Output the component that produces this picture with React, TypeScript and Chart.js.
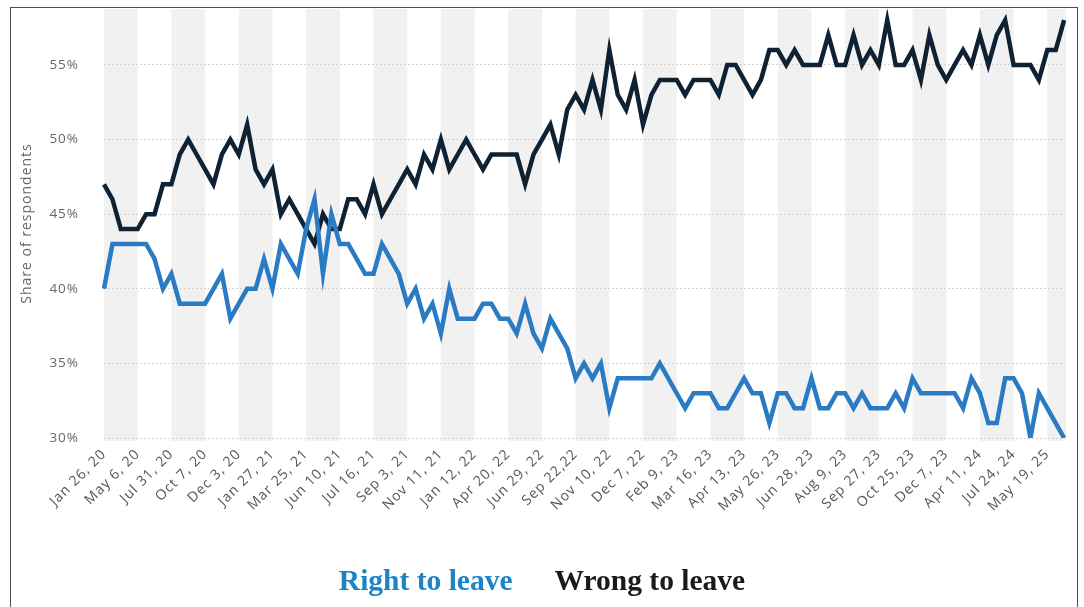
import React, { useEffect, useRef } from "react";
import { Chart, registerables } from "chart.js";

Chart.register(...registerables);

// Tick labels shown on the x axis (one every 4 survey points)
const tickLabels = [
  "Jan 26, 20", "May 6, 20", "Jul 31, 20", "Oct 7, 20", "Dec 3, 20",
  "Jan 27, 21", "Mar 25, 21", "Jun 10, 21", "Jul 16, 21", "Sep 3, 21",
  "Nov 11, 21", "Jan 12, 22", "Apr 20, 22", "Jun 29, 22", "Sep 22,22",
  "Nov 10, 22", "Dec 7, 22", "Feb 9, 23", "Mar 16, 23", "Apr 13, 23",
  "May 26, 23", "Jun 28, 23", "Aug 9, 23", "Sep 27, 23", "Oct 25, 23",
  "Dec 7, 23", "Apr 11, 24", "Jul 24, 24", "May 19, 25",
];
const pointsPerTick = 4;

// Share of respondents (%) saying Britain was right to leave the EU
const rightToLeave = [
  40, 43, 43, 43, 43, 43, 42, 40, 41, 39,
  39, 39, 39, 40, 41, 38, 39, 40, 40, 42,
  40, 43, 42, 41, 44, 46, 41, 45, 43, 43,
  42, 41, 41, 43, 42, 41, 39, 40, 38, 39,
  37, 40, 38, 38, 38, 39, 39, 38, 38, 37,
  39, 37, 36, 38, 37, 36, 34, 35, 34, 35,
  32, 34, 34, 34, 34, 34, 35, 34, 33, 32,
  33, 33, 33, 32, 32, 33, 34, 33, 33, 31,
  33, 33, 32, 32, 34, 32, 32, 33, 33, 32,
  33, 32, 32, 32, 33, 32, 34, 33, 33, 33,
  33, 33, 32, 34, 33, 31, 31, 34, 34, 33,
  30, 33, 32, 31, 30,
];

// Share of respondents (%) saying Britain was wrong to leave the EU
const wrongToLeave = [
  47, 46, 44, 44, 44, 45, 45, 47, 47, 49,
  50, 49, 48, 47, 49, 50, 49, 51, 48, 47,
  48, 45, 46, 45, 44, 43, 45, 44, 44, 46,
  46, 45, 47, 45, 46, 47, 48, 47, 49, 48,
  50, 48, 49, 50, 49, 48, 49, 49, 49, 49,
  47, 49, 50, 51, 49, 52, 53, 52, 54, 52,
  56, 53, 52, 54, 51, 53, 54, 54, 54, 53,
  54, 54, 54, 53, 55, 55, 54, 53, 54, 56,
  56, 55, 56, 55, 55, 55, 57, 55, 55, 57,
  55, 56, 55, 58, 55, 55, 56, 54, 57, 55,
  54, 55, 56, 55, 57, 55, 57, 58, 55, 55,
  55, 54, 56, 56, 58,
];

const yTicks = [30, 35, 40, 45, 50, 55];
const yMin = 30;
const yMax = 58.75;

const categories = rightToLeave.map((_, i) =>
  i % pointsPerTick === 0 ? tickLabels[i / pointsPerTick] ?? "" : ""
);

const seriesNames = ["Right to leave", "Wrong to leave"];
const seriesColors = ["#2b7bc4", "#0f2233"];
const legendColors = ["#1b84c6", "#1a1a1a"];

const bandPlugin = {
  id: "bands",
  beforeDraw(chart: any) {
    const { ctx, chartArea, scales } = chart;
    const x = scales.x;
    ctx.save();
    ctx.fillStyle = "#f1f1f1";
    for (let k = 0; k < tickLabels.length; k += 2) {
      const x0 = x.getPixelForValue(k * pointsPerTick);
      if (x0 >= chartArea.right) break;
      const x1 = Math.min(
        x.getPixelForValue((k + 1) * pointsPerTick),
        chartArea.right + 2
      );
      ctx.fillRect(x0, chartArea.top, x1 - x0, chartArea.bottom - chartArea.top + 3);
    }
    ctx.restore();
    try {
      (ctx as any).letterSpacing = "1px";
    } catch (e) {
      /* ignore */
    }
  },
  beforeDatasetsDraw(chart: any) {
    try {
      (chart.ctx as any).letterSpacing = "0px";
    } catch (e) {
      /* ignore */
    }
  },
};

export default function App() {
  const canvasRef = useRef<HTMLCanvasElement | null>(null);

  useEffect(() => {
    if (!canvasRef.current) return;
    const family = "'Open Sans', sans-serif";
    const chart = new Chart(canvasRef.current, {
      type: "line",
      data: {
        labels: categories,
        datasets: [
          {
            label: seriesNames[0],
            data: rightToLeave,
            borderColor: seriesColors[0],
            backgroundColor: seriesColors[0],
            borderWidth: 4.5,
            pointRadius: 0,
            tension: 0,
          },
          {
            label: seriesNames[1],
            data: wrongToLeave,
            borderColor: seriesColors[1],
            backgroundColor: seriesColors[1],
            borderWidth: 4.5,
            pointRadius: 0,
            tension: 0,
          },
        ],
      },
      options: {
        animation: false,
        responsive: false,
        layout: { padding: { top: 9, right: 16, left: 0, bottom: 0 } },
        plugins: {
          legend: { display: false },
          tooltip: { enabled: false },
        },
        scales: {
          x: {
            grid: { display: false, drawTicks: false },
            border: { display: false },
            afterFit: (s: any) => {
              s.height = 169;
            },
            ticks: {
              autoSkip: false,
              maxRotation: 45,
              minRotation: 45,
              color: "#555555",
              font: { family, size: 14 },
              padding: 8,
            },
          },
          y: {
            min: yMin,
            max: yMax,
            afterBuildTicks: (s: any) => {
              s.ticks = yTicks.map((v) => ({ value: v }));
            },
            afterFit: (s: any) => {
              s.width = 104;
              s.paddingTop = 0;
              s.paddingBottom = 0;
            },
            grid: { color: "#d2d2d2", lineWidth: 1, drawTicks: false },
            border: { display: false, dash: [2, 2] },
            ticks: {
              callback: (v: any) => v + "%",
              color: "#666666",
              font: { family, size: 13.5 },
              padding: 25,
            },
            title: {
              display: true,
              text: "Share of respondents",
              color: "#666666",
              font: { family, size: 14 },
              padding: { top: 19, bottom: 0 },
            },
          },
        },
      },
      plugins: [bandPlugin],
    });
    return () => chart.destroy();
  }, []);

  return (
    <div
      style={{
        position: "fixed",
        left: 0,
        top: 0,
        width: 1084,
        height: 607,
        overflow: "hidden",
        background: "#ffffff",
      }}
    >
      <canvas
        ref={canvasRef}
        width={1084}
        height={607}
        style={{ position: "absolute", left: 0, top: 0, width: 1084, height: 607 }}
      />
      <div
        style={{
          position: "absolute",
          left: 10,
          top: 7,
          width: 1068,
          height: 660,
          border: "1.5px solid #505050",
          boxSizing: "border-box",
          pointerEvents: "none",
        }}
      />
      <div
        style={{
          position: "absolute",
          left: 0,
          top: 565,
          width: 1084,
          display: "flex",
          justifyContent: "center",
          gap: 42,
          fontFamily: "'Liberation Serif', 'Times New Roman', serif",
          fontWeight: "bold",
          fontSize: 29.5,
          lineHeight: "30px",
        }}
      >
        {seriesNames.map((n, i) => (
          <span key={n} style={{ color: legendColors[i] }}>
            {n}
          </span>
        ))}
      </div>
    </div>
  );
}
